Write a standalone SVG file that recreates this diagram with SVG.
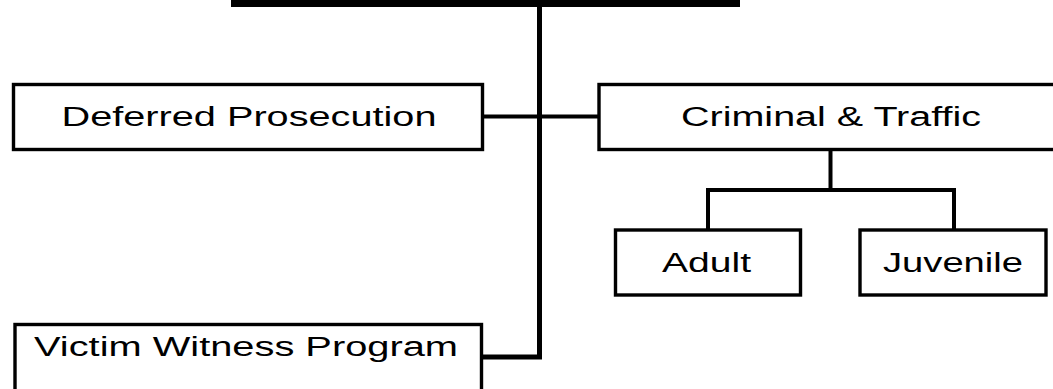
<svg xmlns="http://www.w3.org/2000/svg" width="1053" height="389" viewBox="0 0 1053 389">
<style>
.box{fill:#fff;stroke:#000;stroke-width:3.4;}
.lbl{font-family:"Liberation Sans",Arial,sans-serif;font-size:27px;fill:#000;text-anchor:middle;}
.conn{fill:none;stroke:#000;stroke-width:4;stroke-linejoin:miter;stroke-linecap:square;}
</style>
<rect width="1053" height="389" fill="#fff"/>
<g id="top">
<rect x="231" y="-4" width="509" height="11" fill="#000"/>
</g>
<g id="connectors">
<line x1="539.5" y1="7" x2="539.5" y2="340" stroke="#000" stroke-width="5"/>
<polyline class="conn" points="482,357 539.5,357 539.5,340" style="stroke-width:5"/>
<line class="conn" x1="482" y1="116.5" x2="599" y2="116.5"/>
<polyline class="conn" points="830.5,150 830.5,190"/>
<polyline class="conn" points="708,230 708,190 954,190 954,230"/>
</g>
<g id="deferred">
<rect class="box" x="13.5" y="84.5" width="469" height="65"/>
<text class="lbl" x="249" y="126" textLength="375" lengthAdjust="spacingAndGlyphs">Deferred Prosecution</text>
</g>
<g id="criminal">
<rect class="box" x="599" y="84.5" width="464" height="65"/>
<text class="lbl" x="831" y="126" textLength="300" lengthAdjust="spacingAndGlyphs">Criminal &amp; Traffic</text>
</g>
<g id="adult">
<rect class="box" x="615.5" y="230" width="185" height="65"/>
<text class="lbl" x="706.5" y="272" textLength="89" lengthAdjust="spacingAndGlyphs">Adult</text>
</g>
<g id="juvenile">
<rect class="box" x="860" y="230" width="186" height="65"/>
<text class="lbl" x="953" y="272" textLength="140" lengthAdjust="spacingAndGlyphs">Juvenile</text>
</g>
<g id="victim">
<rect class="box" x="15" y="324.5" width="466.5" height="80"/>
<text class="lbl" x="246" y="356" textLength="424" lengthAdjust="spacingAndGlyphs">Victim Witness Program</text>
</g>
</svg>
